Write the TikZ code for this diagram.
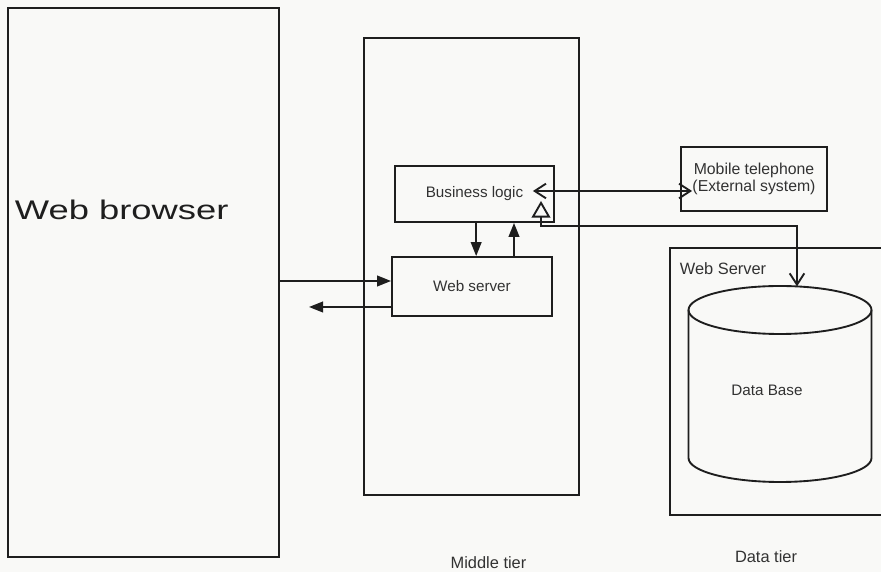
\documentclass[tikz,border=0pt]{standalone}
\usepackage{fontspec}
\setmainfont{Liberation Sans}
\usepackage{graphicx}
\usepackage{xcolor}
\usepackage{tikz}
\usetikzlibrary{arrows.meta,positioning,calc}

\definecolor{ink}{RGB}{30,30,30}
\definecolor{inktext}{RGB}{50,50,50}
\definecolor{paper}{RGB}{249,249,247}

\begin{document}
\begin{tikzpicture}[
    x=0.3mm, y=0.3mm,
    line width=1.6pt, draw=ink,
    box/.style={draw=ink,inner sep=0pt},
    lbl/.style={text=inktext,font=\fontsize{13}{15}\selectfont},
    flow/.style={-{Triangle[length=4.2mm,width=3.2mm]},draw=ink},
    link/.style={{Straight Barb[length=3.4mm,width=4.4mm]}-{Straight Barb[length=3.4mm,width=4.4mm]},draw=ink},
    dblink/.style={{Triangle[open,length=5mm,width=5.6mm]}-{Straight Barb[length=3.4mm,width=4.4mm]},draw=ink},
  ]

  % frame of the page (scan proportions)
  \fill[paper] (0,0) rectangle (881,572);
  \useasboundingbox (0,0) rectangle (881,572);

  % --- client tier ---
  \node[box,minimum width=81.3mm,minimum height=164.7mm] (browser) at (143.5,289.5) {};
  \node[anchor=west,text=ink,font=\fontsize{23}{26}\selectfont]
    (browserlbl) at (10,362) {\scalebox{1.35}[1]{Web browser}};

  % --- middle tier ---
  \node[box,minimum width=64.5mm,minimum height=137.1mm] (middle) at (471.5,305.5) {};
  \node[box,lbl,minimum width=47.7mm,minimum height=16.8mm] (bizlogic) at (474.5,378) {Business logic};
  \node[box,lbl,minimum width=48mm,minimum height=17.7mm] (webserver) at (472,285.5) {Web server};
  \node[lbl,font=\fontsize{14}{16}\selectfont] (middlelbl) at (488.5,9) {Middle tier};

  % --- external system ---
  \node[box,lbl,align=center,minimum width=43.8mm,minimum height=19.2mm,
        font=\fontsize{13.5}{14}\selectfont] (mobile) at (754,393)
        {Mobile telephone\\(External system)};

  % --- data tier ---
  \node[box,minimum width=64.2mm,minimum height=80.1mm] (dataserver) at (777,190.5) {};
  \node[lbl,font=\fontsize{14}{16}\selectfont,anchor=west] (datasrvlbl) at (675,303) {Web Server};
  \node[lbl,font=\fontsize{14}{16}\selectfont] (datalbl) at (766,15) {Data tier};

  % database cylinder
  \draw[ink] (780,262) ellipse [x radius=91.5,y radius=24];
  \draw[ink] (688.5,262) -- (688.5,114)
     arc[start angle=180,end angle=360,x radius=91.5,y radius=24] -- (871.5,262);
  \node[lbl] (dbtext) at (767,182) {Data Base};
  \coordinate (dbtop) at (797,285.6);

  % --- connectors ---
  \coordinate (ws1) at ($(webserver.west)+(0,5.5)$);
  \coordinate (back) at (309,265);
  \draw[flow] (browser.east |- ws1) -- (ws1);
  \draw[flow] (webserver.west |- back) -- (back);

  \draw[flow] ([xshift=0.5mm]bizlogic.south) -- ([xshift=0.5mm]bizlogic.south |- webserver.north);
  \draw[flow] ([xshift=12.6mm]webserver.north) -- ([xshift=12.6mm]webserver.north |- bizlogic.south);

  \coordinate (blR) at ($(bizlogic.east)+(-22,3)$);
  \coordinate (mobL) at ($(mobile.west)+(12,-12)$);
  \draw[link] (blR) -- (blR -| mobL);

  \coordinate (blB) at ($(bizlogic.south)+(66.5,22)$);
  \draw[dblink] (blB) -- ++(0,-25) -| (dbtop);

\end{tikzpicture}
\end{document}
